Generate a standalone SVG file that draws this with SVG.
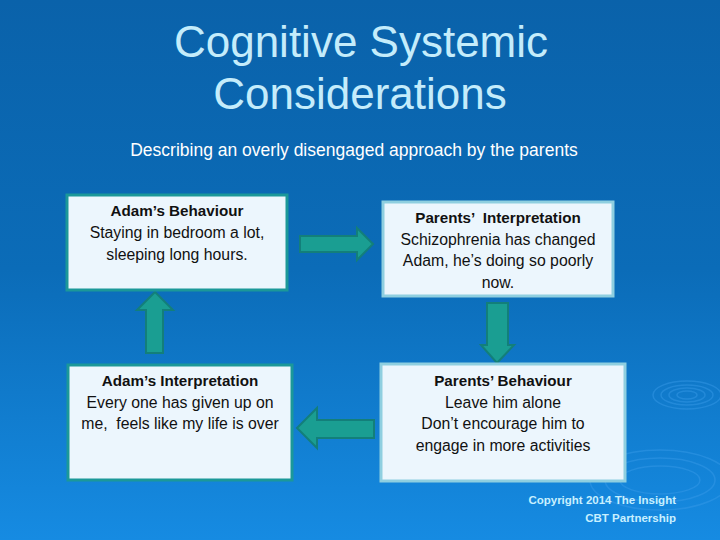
<svg xmlns="http://www.w3.org/2000/svg" width="720" height="540" viewBox="0 0 720 540">
<defs>
<linearGradient id="bg" x1="0" y1="0" x2="0" y2="1">
<stop offset="0" stop-color="#0a62aa"/>
<stop offset="0.5" stop-color="#0b6cb8"/>
<stop offset="1" stop-color="#168be2"/>
</linearGradient>
<style>
.title{font-family:"Liberation Sans",Arial,sans-serif;font-size:44px;fill:#c4ecfb;text-anchor:middle}
.sub{font-family:"Liberation Sans",Arial,sans-serif;font-size:17.5px;fill:#ffffff;text-anchor:middle}
.box{fill:#ecf6fd;stroke-width:3}
.b1{stroke:#1b9899}
.b2{stroke:#8fcfe0}
.t{font-family:"Liberation Sans",Arial,sans-serif;font-size:15.8px;fill:#111;text-anchor:middle;white-space:pre}
.h{font-weight:bold;font-size:15.2px}
.arrow{fill:#1a9e92;stroke:#137f7a;stroke-width:2;stroke-linejoin:miter}
.ripple{fill:none;stroke:#3a9ce8;stroke-opacity:0.45;stroke-width:1.5}
.copy{font-family:"Liberation Sans",Arial,sans-serif;font-size:11.5px;font-weight:bold;fill:#c8f0ff;text-anchor:end}
</style>
</defs>
<rect x="0" y="0" width="720" height="540" fill="url(#bg)"/>
<g id="ripples">
<ellipse class="ripple" cx="687" cy="395" rx="26" ry="10"/>
<ellipse class="ripple" cx="687" cy="395" rx="18" ry="7"/>
<ellipse class="ripple" cx="687" cy="395" rx="10" ry="4"/>
<ellipse class="ripple" cx="687" cy="395" rx="34" ry="14"/>
<ellipse class="ripple" cx="660" cy="480" rx="40" ry="14"/>
<ellipse class="ripple" cx="660" cy="480" rx="55" ry="22"/>
<ellipse class="ripple" cx="660" cy="480" rx="70" ry="30"/>
</g>
<g id="title">
<text class="title" x="361" y="57">Cognitive Systemic</text>
<text class="title" x="360" y="109">Considerations</text>
<text class="sub" x="354" y="156">Describing an overly disengaged approach by the parents</text>
</g>
<g id="connectors">
<polygon class="arrow" points="300,236 357,236 357,228 373,244 357,260 357,252 300,252"/>
<polygon class="arrow" points="487,303 508,303 508,345 514,345 497,363 481,345 487,345"/>
<polygon class="arrow" points="374,420 317,420 317,408 297,428 317,448 317,438 374,438"/>
<polygon class="arrow" points="146,353 146,310 137,310 155,292 173,310 163,310 163,353"/>
</g>
<g id="adam-behaviour">
<rect class="box b1" x="67" y="195" width="220" height="95"/>
<text class="t h" x="177" y="216">Adam’s Behaviour</text>
<text class="t" x="177" y="238">Staying in bedroom a lot,</text>
<text class="t" x="177" y="260">sleeping long hours.</text>
</g>
<g id="parents-interpretation">
<rect class="box b2" x="383" y="202" width="230" height="94"/>
<text class="t h" x="498" y="223">Parents’  Interpretation</text>
<text class="t" x="498" y="245">Schizophrenia has changed</text>
<text class="t" x="498" y="266">Adam, he’s doing so poorly</text>
<text class="t" x="498" y="288">now.</text>
</g>
<g id="adam-interpretation">
<rect class="box b1" x="68" y="365" width="224" height="115"/>
<text class="t h" x="180" y="386">Adam’s Interpretation</text>
<text class="t" x="180" y="408">Every one has given up on</text>
<text class="t" x="180" y="429">me,  feels like my life is over</text>
</g>
<g id="parents-behaviour">
<rect class="box b2" x="381" y="364" width="244" height="117"/>
<text class="t h" x="503" y="386">Parents’ Behaviour</text>
<text class="t" x="503" y="408">Leave him alone</text>
<text class="t" x="503" y="429">Don’t encourage him to</text>
<text class="t" x="503" y="451">engage in more activities</text>
</g>
<g id="copyright">
<text class="copy" x="676" y="504">Copyright 2014 The Insight</text>
<text class="copy" x="676" y="522">CBT Partnership</text>
</g>
</svg>
